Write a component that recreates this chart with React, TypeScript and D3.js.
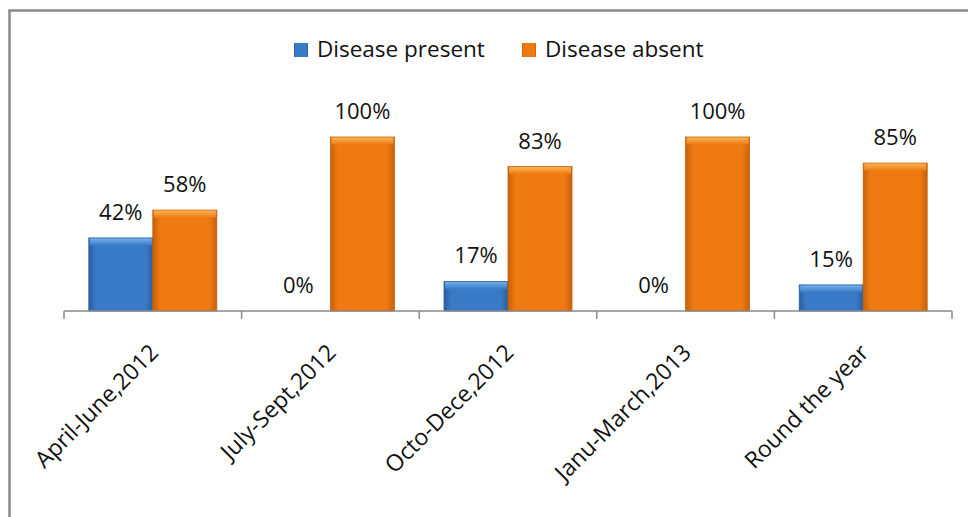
import React, { useRef, useEffect } from 'react';
import * as d3 from 'd3';

const CATEGORIES = ['April-June,2012', 'July-Sept,2012', 'Octo-Dece,2012', 'Janu-March,2013', 'Round the year'];
const SERIES = ['Disease present', 'Disease absent'];
const PRESENT = [42, 0, 17, 0, 15];
const ABSENT = [58, 100, 83, 100, 85];

const COLORS: Record<string, { base: string; dark: string; light: string }> = {
  'Disease present': { base: '#3a7bc8', dark: '#2a5f9e', light: '#74afe8' },
  'Disease absent': { base: '#f07a12', dark: '#c8600a', light: '#f9b455' },
};

const FONT = '"Open Sans", sans-serif';

const App: React.FC = () => {
  const svgRef = useRef<SVGSVGElement>(null);

  useEffect(() => {
    if (!svgRef.current) return;
    const W = 968;
    const H = 517;
    const svg = d3.select(svgRef.current);
    svg.selectAll('*').remove();

    const axisY = 311;
    const x = d3.scaleBand<string>().domain(CATEGORIES).range([64, 952]).padding(0);
    const inner = d3.scaleBand<string>().domain(SERIES).range([0, x.bandwidth()]).paddingInner(0).paddingOuter(0.3875);
    const y = d3.scaleLinear().domain([0, 100]).range([axisY, 137]);

    const defs = svg.append('defs');
    SERIES.forEach((s, i) => {
      const c = COLORS[s];
      const g = defs.append('linearGradient').attr('id', `bar${i}`).attr('x1', 0).attr('x2', 1).attr('y1', 0).attr('y2', 0);
      g.append('stop').attr('offset', '0%').attr('stop-color', c.dark);
      g.append('stop').attr('offset', '12%').attr('stop-color', c.base);
      g.append('stop').attr('offset', '88%').attr('stop-color', c.base);
      g.append('stop').attr('offset', '100%').attr('stop-color', c.dark);
      const t = defs.append('linearGradient').attr('id', `cap${i}`).attr('x1', 0).attr('x2', 0).attr('y1', 0).attr('y2', 1);
      t.append('stop').attr('offset', '0%').attr('stop-color', c.light);
      t.append('stop').attr('offset', '100%').attr('stop-color', c.base);
    });

    // frame
    svg.append('path')
      .attr('d', `M9.5,${H + 5} L9.5,10.5 L${W + 5},10.5`)
      .attr('fill', 'none')
      .attr('stroke', '#8a8a8a')
      .attr('stroke-width', 2.5);

    const rows = CATEGORIES.map((c, i) => ({ cat: c, vals: [PRESENT[i], ABSENT[i]] }));

    // bars
    rows.forEach(r => {
      r.vals.forEach((v, si) => {
        const s = SERIES[si];
        const bx = x(r.cat)! + inner(s)!;
        const bw = inner.bandwidth();
        const top = y(v);
        const h = axisY - top;
        if (h > 0) {
          svg.append('rect')
            .attr('x', bx).attr('y', top).attr('width', bw).attr('height', h)
            .attr('fill', `url(#bar${si})`)
            .attr('stroke', COLORS[s].dark).attr('stroke-width', 0.8);
          svg.append('rect')
            .attr('x', bx + 1).attr('y', top + 0.5).attr('width', bw - 2).attr('height', Math.min(7, h - 1))
            .attr('fill', `url(#cap${si})`);
        }
        svg.append('text')
          .attr('x', bx + bw / 2)
          .attr('y', top - 18)
          .attr('text-anchor', 'middle')
          .attr('font-family', FONT)
          .attr('font-size', 22)
          .attr('fill', '#111')
          .text(`${v}%`);
      });
    });

    // axis
    const ax = svg.append('g').attr('transform', `translate(0,${axisY})`);
    ax.append('line').attr('x1', 64).attr('x2', 952).attr('stroke', '#8a8a8a').attr('stroke-width', 1.5);
    const edges = [...CATEGORIES.map(c => x(c)!), 952];
    ax.selectAll('.tk').data(edges).join('line')
      .attr('x1', d => d).attr('x2', d => d).attr('y1', 0).attr('y2', 8)
      .attr('stroke', '#8a8a8a').attr('stroke-width', 1.5);
    ax.selectAll('.lbl').data(CATEGORIES).join('text')
      .attr('transform', d => `translate(${x(d)! + x.bandwidth() / 2 + 7},${43}) rotate(-45)`)
      .attr('text-anchor', 'end')
      .attr('font-family', FONT)
      .attr('font-size', 23)
      .attr('fill', '#111')
      .text(d => d);

    // legend
    const leg = [
      { s: SERIES[0], sx: 294, tx: 317 },
      { s: SERIES[1], sx: 522, tx: 545 },
    ];
    leg.forEach((l, i) => {
      svg.append('rect').attr('x', l.sx).attr('y', 43).attr('width', 14).attr('height', 14)
        .attr('fill', `url(#bar${i})`);
      svg.append('text').attr('x', l.tx).attr('y', 57)
        .attr('font-family', FONT).attr('font-size', 22.5).attr('fill', '#111').text(l.s);
    });
  }, []);

  return (
    <svg ref={svgRef} width={968} height={517} style={{ position: 'absolute', left: 0, top: 0, background: '#fff' }} />
  );
};

export default App;
